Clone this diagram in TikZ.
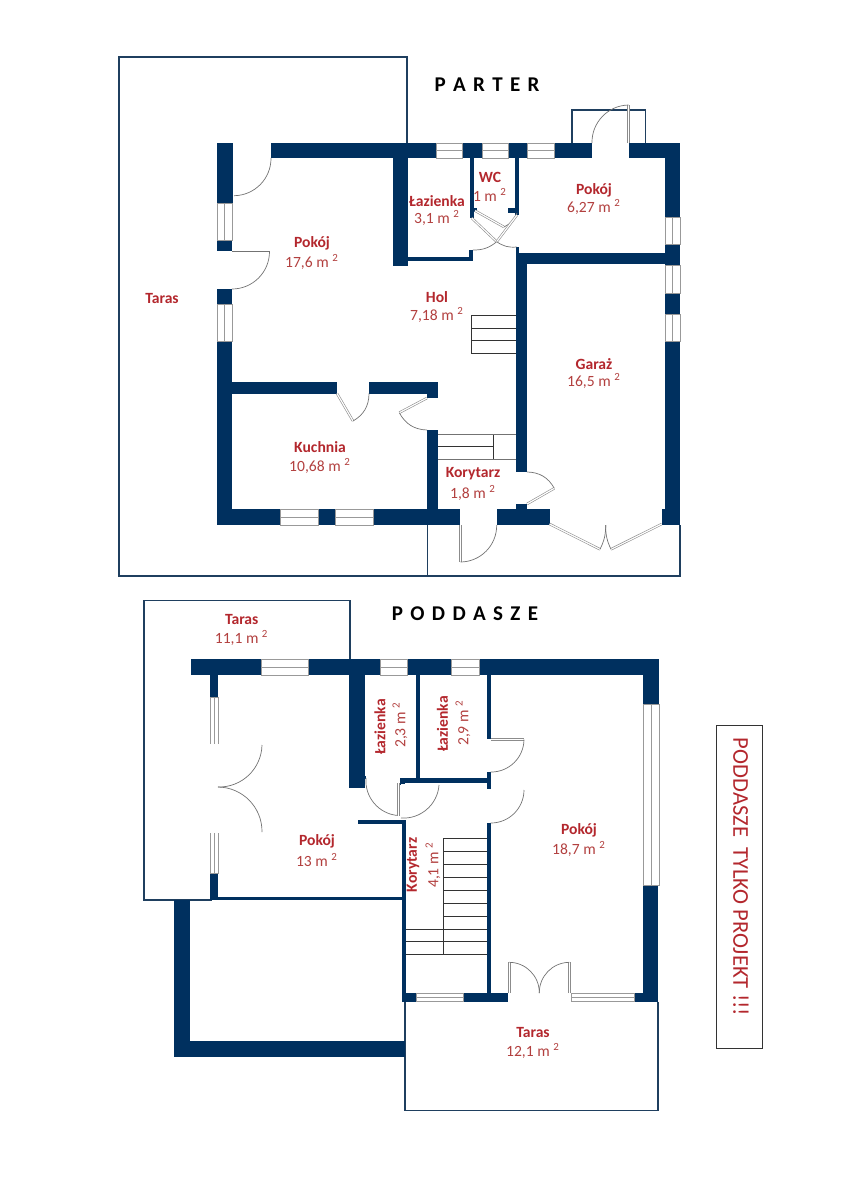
\documentclass[tikz,border=0pt]{standalone}
\usepackage{fontspec}
\setmainfont{Carlito}
\newfontfamily\headfont[WordSpace=1.55]{Carlito}
\definecolor{wallblue}{HTML}{00305F}
\definecolor{outlinenavy}{HTML}{1F3F5F}
\definecolor{namered}{HTML}{B3272D}
\definecolor{areared}{HTML}{B2403F}
\tikzset{
    wall/.style={fill=wallblue},
    outline/.style={draw=outlinenavy,line width=0.75pt},
    pane/.style={draw=black!40,fill=white,line width=0.35pt},
    leaf/.style={draw=black!45,double=white,double distance=0.6pt,line width=0.3pt},
    swing/.style={draw=black!55,line width=0.35pt},
    tread/.style={draw=black!80,line width=0.4pt},
    roomname/.style={text=namered,font=\fontsize{7.8}{9}\selectfont\bfseries,inner sep=0pt},
    roomarea/.style={text=areared,font=\fontsize{7.8}{9}\selectfont,inner sep=0pt},
    title/.style={text=black,font=\headfont\fontsize{10.5}{12}\selectfont\bfseries,inner sep=0pt}
}
\begin{document}
\begin{tikzpicture}[x=0.5pt,y=-0.5pt]
    \useasboundingbox (0,0) rectangle (849,1200);

    % parter
    \draw[outline] (407,143) -- (407,57) -- (119,57) -- (119,576) -- (680,576) -- (680,525);
    \draw[outline] (427.6,525) -- (427.6,576);
    \draw[outline] (572,143) -- (572,110) -- (645.7,110) -- (645.7,143);

    \fill[wall] (217,143) rectangle (233,203);
    \fill[wall] (217,240) rectangle (232,251);
    \fill[wall] (217,289) rectangle (232,304);
    \fill[wall] (217,341) rectangle (232,525);
    \fill[wall] (271,143) rectangle (436,158);
    \fill[wall] (462,143) rectangle (482,158);
    \fill[wall] (508,143) rectangle (527,158);
    \fill[wall] (554,143) rectangle (592,158);
    \fill[wall] (629,143) rectangle (680,158);
    \fill[wall] (665,143) rectangle (680,217);
    \fill[wall] (665,244) rectangle (680,265);
    \fill[wall] (665,293) rectangle (680,314);
    \fill[wall] (665,341) rectangle (680,525);
    \fill[wall] (393,143) rectangle (408,266);
    \fill[wall] (408,257) rectangle (473,261);
    \fill[wall] (469,250) rectangle (473,261);
    \fill[wall] (470,158) rectangle (474,218);
    \fill[wall] (474,208) rectangle (477,212);
    \fill[wall] (515,158) rectangle (519,215);
    \fill[wall] (508,208) rectangle (515,213);
    \fill[wall] (516,247) rectangle (519,253);
    \fill[wall] (516,253) rectangle (665,264);
    \fill[wall] (516,253) rectangle (527,472);
    \fill[wall] (516,504) rectangle (527,510);
    \fill[wall] (232,382) rectangle (337,393.5);
    \fill[wall] (369,382) rectangle (438,393.5);
    \fill[wall] (427,382) rectangle (438,398);
    \fill[wall] (427,430) rectangle (438,510);
    \fill[wall] (217,509) rectangle (280,525);
    \fill[wall] (318,509) rectangle (335,525);
    \fill[wall] (373,509) rectangle (460,525);
    \fill[wall] (497,509) rectangle (549.6,525);
    \fill[wall] (662,509) rectangle (680,525);

    \draw[pane] (436,143) rectangle (462,158) (436,150.5) -- (462,150.5);
    \draw[pane] (482,143) rectangle (508,158) (482,150.5) -- (508,150.5);
    \draw[pane] (527,143) rectangle (554,158) (527,150.5) -- (554,150.5);
    \draw[pane] (217,203) rectangle (232,240) (224.5,203) -- (224.5,240);
    \draw[pane] (217,304) rectangle (232,341) (224.5,304) -- (224.5,341);
    \draw[pane] (665,217) rectangle (680,244) (672.5,217) -- (672.5,244);
    \draw[pane] (665,265) rectangle (680,293) (672.5,265) -- (672.5,293);
    \draw[pane] (665,314) rectangle (680,341) (672.5,314) -- (672.5,341);
    \draw[pane] (280,509) rectangle (318,525) (280,517) -- (318,517);
    \draw[pane] (335,509) rectangle (373,525) (335,517) -- (373,517);

    % stairs parter
    \draw[tread] (471,315.7) -- (516,315.7) (471,328) -- (516,328) (471,340.7) -- (516,340.7) (471,353) -- (516,353) (471,315.7) -- (471,353);
    \draw[tread] (438,446.7) -- (493.7,446.7) (493.7,434) -- (493.7,459);
    \draw[swing] (438,434) -- (516,434) (438,459) -- (516,459);

    % doors parter
    \draw[leaf] (234,158) -- (234,195.7);
    \draw[swing] (271,158) to[bend left=45] (234,195.7);
    \draw[swing] (232,251.5) -- (269.5,251.5);
    \draw[swing] (269.5,251.5) to[bend left=45] (232,289);
    \draw[leaf] (337,393.5) -- (353,421);
    \draw[swing] (353,421) to[bend right=30] (369,393.5);
    \draw[leaf] (427,398) -- (399.3,412.7);
    \draw[swing] (399.3,412.7) to[bend right=30] (427,430);
    \draw[leaf] (527,504) -- (554.3,488.3);
    \draw[swing] (554.3,488.3) to[bend right=30] (527,472);
    \draw[leaf] (460.5,525) -- (460.5,562);
    \draw[swing] (460.5,562) to[bend right=45] (496.7,525);
    \draw[leaf] (549.6,524) -- (600,549.3);
    \draw[swing] (600,549.3) to[bend right=13] (605.7,525);
    \draw[leaf] (661.7,524) -- (611,549.3);
    \draw[swing] (611,549.3) to[bend left=13] (605.7,525);
    \draw[leaf] (628.5,143) -- (628.5,105);
    \draw[swing] (628.5,105) to[bend right=45] (592,143);
    \draw[leaf] (475,210.7) -- (504,227);
    \draw[swing] (504,227) to[bend right=20] (517,213);
    \draw[leaf] (471.7,218) -- (496.7,241.7);
    \draw[swing] (496.7,241.7) to[bend left=20] (473,250);
    \draw[leaf] (517,215) -- (496.7,241.7);
    \draw[swing] (496.7,241.7) to[bend right=20] (516.7,247);

    \node[title] (parter) at (487,85) {P A R T E R};
    \node[roomname] (taras1) at (162,298) {Taras};
    \node[roomname] (pokoj1) at (312,243) {Pokój};
    \node[roomarea] (pokoj1area) at (312,262) {17,6 m \textsuperscript{2}};
    \node[roomname] (lazienka1) at (437,200.7) {Łazienka};
    \node[roomarea] (lazienka1area) at (437,218) {3,1 m \textsuperscript{2}};
    \node[roomname] (wc) at (490,177) {WC};
    \node[roomarea] (wcarea) at (490,195) {1 m \textsuperscript{2}};
    \node[roomname] (pokoj2) at (594,190) {Pokój};
    \node[roomarea] (pokoj2area) at (594,207) {6,27 m \textsuperscript{2}};
    \node[roomname] (hol) at (437,297) {Hol};
    \node[roomarea] (holarea) at (437,315) {7,18 m \textsuperscript{2}};
    \node[roomname] (garaz) at (594,364) {Garaż};
    \node[roomarea] (garazarea) at (594,381) {16,5 m \textsuperscript{2}};
    \node[roomname] (kuchnia) at (320,447) {Kuchnia};
    \node[roomarea] (kuchniaarea) at (320,466) {10,68 m \textsuperscript{2}};
    \node[roomname] (korytarz1) at (473,474) {Korytarz};
    \node[roomarea] (korytarz1area) at (473,493) {1,8 m \textsuperscript{2}};

    % poddasze
    \draw[outline] (350,659) -- (350,600.3) -- (144,600.3) -- (144,900) -- (212,900);
    \draw[outline] (405,1001.7) -- (405,1110.7) -- (658,1110.7) -- (658,1001.7);

    \fill[wall] (190.7,659.3) rectangle (261,675);
    \fill[wall] (308,659.3) rectangle (380,675);
    \fill[wall] (407.3,659.3) rectangle (451.7,675);
    \fill[wall] (479,659.3) rectangle (659,675);
    \fill[wall] (643,659.3) rectangle (659,704);
    \fill[wall] (643,885) rectangle (658,1001.7);
    \fill[wall] (634,993) rectangle (658,1001.7);
    \fill[wall] (463,993) rectangle (508,1001.7);
    \fill[wall] (402,993) rectangle (416.7,1001.7);
    \fill[wall] (210,675) rectangle (218,697);
    \fill[wall] (210,873) rectangle (218,900);
    \fill[wall] (218,897) rectangle (403,900);
    \fill[wall] (402,820) rectangle (406,1001.7);
    \fill[wall] (358,820) rectangle (406,824);
    \fill[wall] (348.7,675) rectangle (365,787.7);
    \fill[wall] (365,776) rectangle (366,779);
    \fill[wall] (416,675) rectangle (420.3,780);
    \fill[wall] (400,777.7) rectangle (488,782.7);
    \fill[wall] (400,778) rectangle (405,785);
    \fill[wall] (487,675) rectangle (490.7,739.3);
    \fill[wall] (487,772) rectangle (490.7,789);
    \fill[wall] (486.7,823) rectangle (490.7,1001.7);
    \fill[wall] (174.3,900) rectangle (190,1056.7);
    \fill[wall] (174.3,1040.7) rectangle (405,1056.7);

    \draw[pane] (261,659.3) rectangle (308,675) (261,667) -- (308,667);
    \draw[pane] (380,659.3) rectangle (407.3,675) (380,667) -- (407.3,667);
    \draw[pane] (451.7,659.3) rectangle (479,675) (451.7,667) -- (479,667);
    \draw[pane] (643,704) rectangle (659,885) (651,704) -- (651,885);
    \draw[pane] (210.5,697) rectangle (218,745) (214,697) -- (214,745);
    \draw[pane] (210.5,832) rectangle (218,873) (214,832) -- (214,873);
    \draw[pane] (416.7,993.5) rectangle (463,1001.7) (416.7,997.5) -- (463,997.5);
    \draw[pane] (571,993.5) rectangle (634,1001.7) (571,997.5) -- (634,997.5);

    % stairs poddasze
    \draw[tread] (443,838.7) -- (487,838.7) (443,851.5) -- (487,851.5) (443,864.5) -- (487,864.5) (443,877.5) -- (487,877.5) (443,890.7) -- (487,890.7) (443,903.7) -- (487,903.7) (443,916.7) -- (487,916.7);
    \draw[tread] (405.7,929.3) -- (487,929.3) (405.7,941.7) -- (487,941.7) (405.7,954.3) -- (487,954.3) (443,838.7) -- (443,954.3);

    % doors poddasze
    \draw[leaf] (210,745) -- (262,745);
    \draw[swing] (262,745) to[bend left=45] (218,787);
    \draw[leaf] (210,832) -- (262,832);
    \draw[swing] (262,832) to[bend right=45] (218,787);
    \draw[leaf] (490.7,739.5) -- (524,739.5);
    \draw[swing] (524,739.5) to[bend left=45] (490.7,772);
    \draw[leaf] (490.7,790) -- (524,790);
    \draw[swing] (524,790) to[bend left=45] (490.7,823);
    \draw[swing] (366,778) to[bend right=45] (398,815.5);
    \draw[leaf] (398.5,783) -- (398.5,815.5);
    \draw[leaf] (401,785) -- (439,785);
    \draw[swing] (439,785) to[bend left=45] (401,818);
    \draw[leaf] (509.3,993) -- (509.3,962.3);
    \draw[swing] (509.3,962.3) to[bend left=45] (539.3,993);
    \draw[leaf] (569.3,993) -- (569.3,962.3);
    \draw[swing] (569.3,962.3) to[bend right=45] (539.3,993);

    \node[title] (poddasze) at (465,614) {P O D D A S Z E};
    \node[roomname] (taras2) at (241.7,619) {Taras};
    \node[roomarea] (taras2area) at (241.7,638) {11,1 m \textsuperscript{2}};
    \node[roomname] (pokoj3) at (317,841) {Pokój};
    \node[roomarea] (pokoj3area) at (317,860) {13 m \textsuperscript{2}};
    \node[roomname,rotate=90] (lazienka2) at (380,727) {Łazienka};
    \node[roomarea,rotate=90] (lazienka2area) at (400,725) {2,3 m \textsuperscript{2}};
    \node[roomname,rotate=90] (lazienka3) at (442.5,724) {Łazienka};
    \node[roomarea,rotate=90] (lazienka3area) at (463,723) {2,9 m \textsuperscript{2}};
    \node[roomname,rotate=90] (korytarz2) at (413,865) {Korytarz};
    \node[roomarea,rotate=90] (korytarz2area) at (433,865) {4,1 m \textsuperscript{2}};
    \node[roomname] (pokoj4) at (579,830) {Pokój};
    \node[roomarea] (pokoj4area) at (579,849) {18,7 m \textsuperscript{2}};
    \node[roomname] (taras3) at (533,1032) {Taras};
    \node[roomarea] (taras3area) at (533,1051) {12,1 m \textsuperscript{2}};

    \draw[draw=black!80,line width=0.5pt] (716.7,725) rectangle (762,1048);
    \node[rotate=-90,inner sep=0pt,text=namered,font=\fontsize{11.3}{13}\selectfont] (notice) at (741,877) {PODDASZE\ \ TYLKO PROJEKT !!!};
\end{tikzpicture}
\end{document}
